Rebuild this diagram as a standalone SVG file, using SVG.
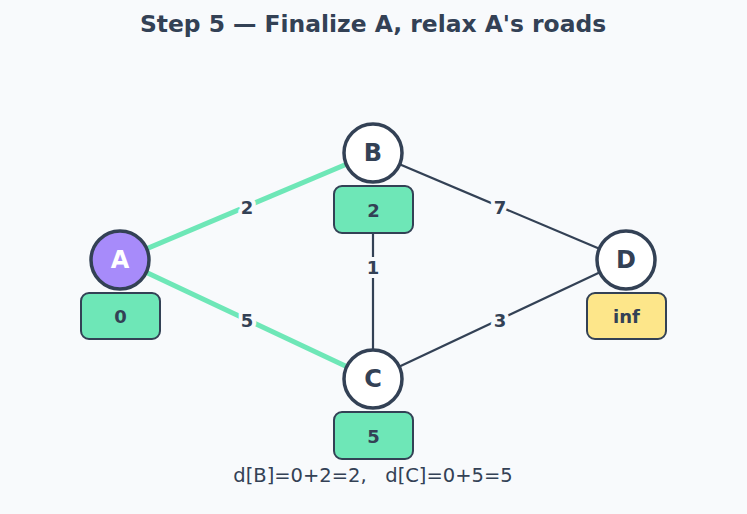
<svg xmlns="http://www.w3.org/2000/svg" width="747" height="514" viewBox="0 0 747 514">
<style>
text{font-family:"DejaVu Sans","Liberation Sans",sans-serif;text-anchor:middle;dominant-baseline:central;fill:#334155}
.title{font-size:23.4px;font-weight:bold}
.edge{stroke:#334155;stroke-width:2.2;fill:none}
.hot{stroke:#6ee7b7;stroke-width:5;fill:none}
.el{font-size:18px;font-weight:bold;paint-order:stroke;stroke:#f8fafc;stroke-width:8px;stroke-linejoin:round}
.node{fill:#ffffff;stroke:#334155;stroke-width:3.5}
.nl{font-size:24px;font-weight:bold}
.box{stroke:#334155;stroke-width:2}
.bl{font-size:18px;font-weight:bold}
.note{font-size:19.5px}
</style>
<rect width="747" height="514" fill="#f8fafc"/>
<text class="title" x="373" y="24">Step 5 — Finalize A, relax A's roads</text>
<g id="connectors">
<line class="hot" x1="120" y1="260" x2="373" y2="153"/>
<line class="hot" x1="120" y1="260" x2="373" y2="379"/>
<line class="edge" x1="373" y1="153" x2="626" y2="260"/>
<line class="edge" x1="373" y1="233" x2="373" y2="379"/>
<line class="edge" x1="373" y1="379" x2="626" y2="260"/>
<text class="el" x="247" y="207">2</text>
<text class="el" x="247" y="320">5</text>
<text class="el" x="500" y="207">7</text>
<text class="el" x="373" y="267">1</text>
<text class="el" x="500" y="320">3</text>
</g>
<g id="A">
<circle cx="120" cy="260" r="29" class="node" style="fill:#a78bfa"/>
<text class="nl" x="120" y="260" style="fill:#ffffff">A</text>
<rect class="box" x="81" y="293" width="79" height="46" rx="8" fill="#6ee7b7"/>
<text class="bl" x="120.5" y="316">0</text>
</g>
<g id="B">
<circle cx="373" cy="153" r="29" class="node"/>
<text class="nl" x="373" y="153">B</text>
<rect class="box" x="334" y="186" width="79" height="47" rx="8" fill="#6ee7b7"/>
<text class="bl" x="373.5" y="210">2</text>
</g>
<g id="C">
<circle cx="373" cy="379" r="29" class="node"/>
<text class="nl" x="373" y="379">C</text>
<rect class="box" x="334" y="412" width="79" height="47" rx="8" fill="#6ee7b7"/>
<text class="bl" x="373.5" y="436">5</text>
</g>
<g id="D">
<circle cx="626" cy="260" r="29" class="node"/>
<text class="nl" x="626" y="260">D</text>
<rect class="box" x="587" y="293" width="79" height="46" rx="8" fill="#fde68a"/>
<text class="bl" x="626.5" y="316">inf</text>
</g>
<text class="note" x="373" y="475" xml:space="preserve">d[B]=0+2=2,   d[C]=0+5=5</text>
</svg>
